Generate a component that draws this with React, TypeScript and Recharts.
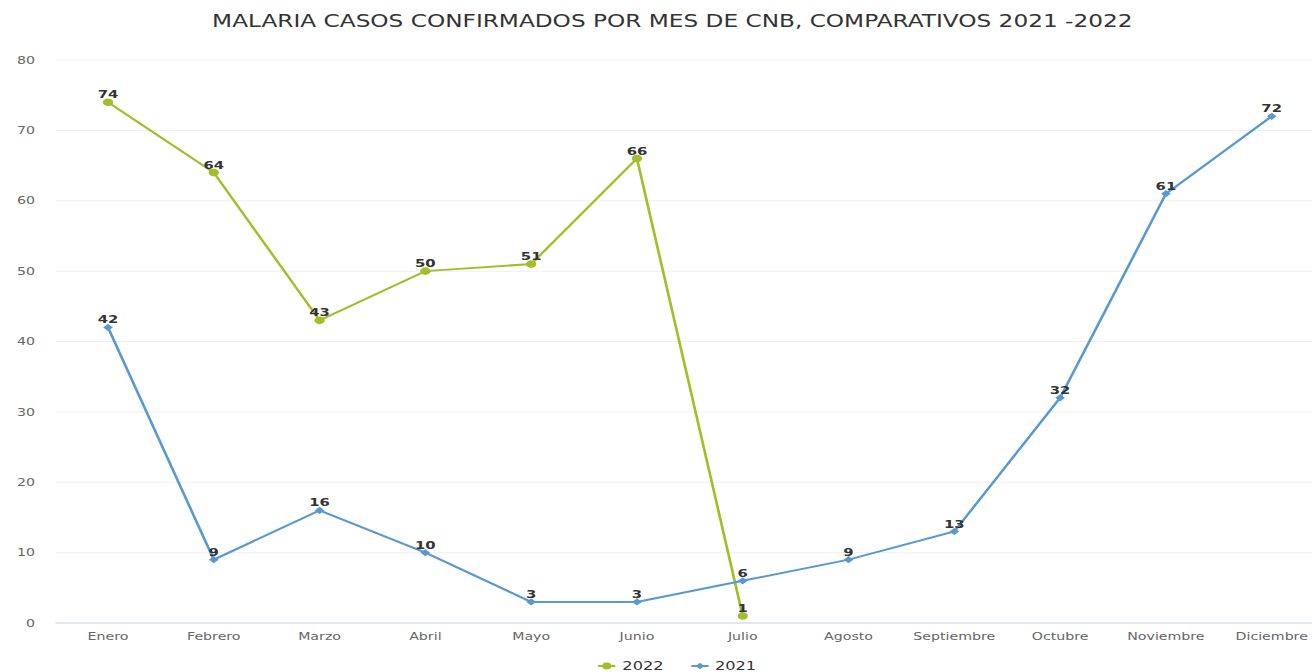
import React from "react";
import { LineChart, Line, XAxis, YAxis, CartesianGrid, LabelList } from "recharts";

const months = ["Enero","Febrero","Marzo","Abril","Mayo","Junio","Julio","Agosto","Septiembre","Octubre","Noviembre","Diciembre"];
const cases2022: (number | null)[] = [74, 64, 43, 50, 51, 66, 1, null, null, null, null, null];
const cases2021: number[] = [42, 9, 16, 10, 3, 3, 6, 9, 13, 32, 61, 72];
const yTicks = [0, 10, 20, 30, 40, 50, 60, 70, 80];

const data = months.map((m, i) => ({ month: m, y2022: cases2022[i], y2021: cases2021[i] }));

const GREEN = "#a2bf2a";
const BLUE = "#5a98d0";
const FONT = "DejaVu Sans, Verdana, sans-serif";
const SX = 1.35;

const Diamond = (props: any) => {
  const { cx, cy, index } = props;
  if (cx == null || cy == null) return <g key={index} />;
  const s = 3.6;
  return <path key={index} d={`M${cx},${cy - s}L${cx + s},${cy}L${cx},${cy + s}L${cx - s},${cy}Z`} fill={BLUE} />;
};

const Circle = (props: any) => {
  const { cx, cy, index, value } = props;
  if (cx == null || cy == null || value == null) return <g key={index} />;
  return <circle key={index} cx={cx} cy={cy} r={3.8} fill={GREEN} />;
};

const labelStyle = { fontSize: 11, fontWeight: 700, fill: "#333333", fontFamily: FONT };

export default function App() {
  return (
    <div style={{ position: "absolute", left: 0, top: 0, width: 1312, height: 672, overflow: "hidden", background: "#fff" }}>
      <div style={{ position: "absolute", left: 0, top: 0, width: 985, height: 672, transform: `scaleX(${SX})`, transformOrigin: "0 0" }}>
        <div style={{ position: "absolute", left: 0, top: 11, width: 996, textAlign: "center", fontFamily: FONT, fontSize: 17.2, color: "#333333", whiteSpace: "nowrap" }}>
          MALARIA CASOS CONFIRMADOS POR MES DE CNB, COMPARATIVOS 2021 -2022
        </div>
        <div style={{ position: "absolute", left: 0, top: 0 }}>
          <LineChart width={985} height={672} data={data} margin={{ top: 60, right: 4, bottom: 24, left: 0 }}>
            <CartesianGrid vertical={false} stroke="#efefef" />
            <XAxis
              dataKey="month"
              axisLine={{ stroke: "#ccd6eb" }}
              tickLine={false}
              tick={{ fontSize: 10.5, fill: "#666666", fontFamily: FONT }}
              height={25}
              padding={{ left: 39, right: 39 }}
              interval={0}
              dy={2}
            />
            <YAxis
              domain={[0, 80]}
              ticks={yTicks}
              width={41}
              axisLine={false}
              tickLine={false}
              tick={{ fontSize: 10.5, fill: "#666666", fontFamily: FONT }}
              dx={-7}
            />
            <Line
              dataKey="y2022"
              stroke={GREEN}
              strokeWidth={2}
              dot={<Circle />}
              activeDot={false}
              isAnimationActive={false}
            >
              <LabelList dataKey="y2022" position="top" offset={4} style={labelStyle} />
            </Line>
            <Line
              dataKey="y2021"
              stroke={BLUE}
              strokeWidth={2}
              dot={<Diamond />}
              activeDot={false}
              isAnimationActive={false}
            >
              <LabelList dataKey="y2021" position="top" offset={4} style={labelStyle} />
            </Line>
          </LineChart>
        </div>
        <div style={{ position: "absolute", left: 443, top: 659, display: "flex", alignItems: "center", fontFamily: FONT, fontSize: 12, color: "#333333" }}>
          <svg width={13} height={10}><line x1={0} y1={5} x2={13} y2={5} stroke={GREEN} strokeWidth={2} /><circle cx={6.5} cy={5} r={3.4} fill={GREEN} /></svg>
          <span style={{ marginLeft: 5 }}>2022</span>
          <svg width={13} height={10} style={{ marginLeft: 20 }}><line x1={0} y1={5} x2={13} y2={5} stroke={BLUE} strokeWidth={2} /><path d="M6.5,1.8L9.7,5L6.5,8.2L3.3,5Z" fill={BLUE} /></svg>
          <span style={{ marginLeft: 5 }}>2021</span>
        </div>
      </div>
    </div>
  );
}
